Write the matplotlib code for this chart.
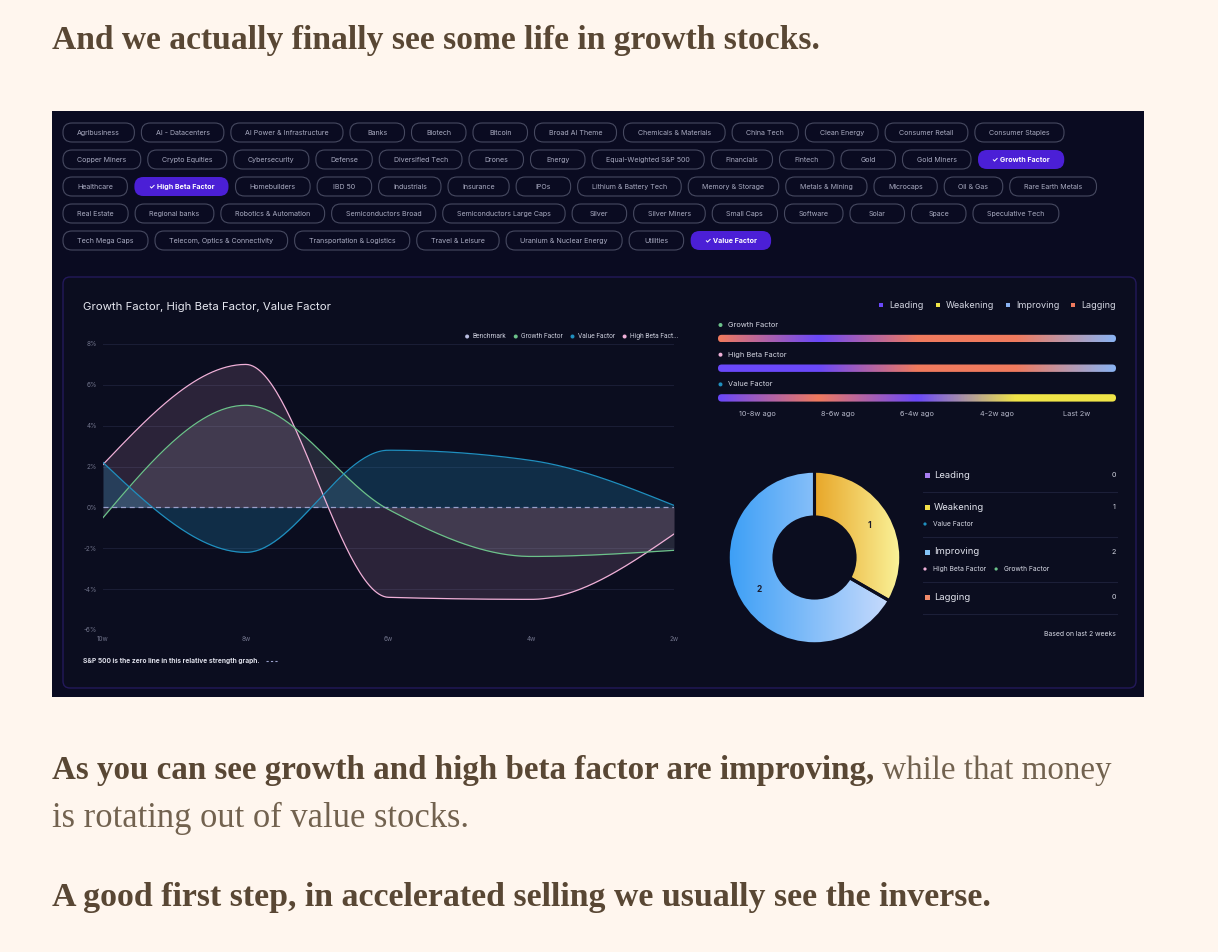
import numpy as np
import matplotlib
matplotlib.use("Agg")
import matplotlib.pyplot as plt
from matplotlib.patches import FancyBboxPatch, Rectangle, Circle
from matplotlib.colors import LinearSegmentedColormap

W, H = 1218, 952

# ---- data -------------------------------------------------------------
chip_rows = [
    ["Agribusiness", "AI - Datacenters", "AI Power & Infrastructure", "Banks", "Biotech", "Bitcoin",
     "Broad AI Theme", "Chemicals & Materials", "China Tech", "Clean Energy", "Consumer Retail",
     "Consumer Staples"],
    ["Copper Miners", "Crypto Equities", "Cybersecurity", "Defense", "Diversified Tech", "Drones",
     "Energy", "Equal-Weighted S&P 500", "Financials", "Fintech", "Gold", "Gold Miners", "Growth Factor"],
    ["Healthcare", "High Beta Factor", "Homebuilders", "IBD 50", "Industrials", "Insurance", "IPOs",
     "Lithium & Battery Tech", "Memory & Storage", "Metals & Mining", "Microcaps", "Oil & Gas",
     "Rare Earth Metals"],
    ["Real Estate", "Regional banks", "Robotics & Automation", "Semiconductors Broad",
     "Semiconductors Large Caps", "Silver", "Silver Miners", "Small Caps", "Software", "Solar", "Space",
     "Speculative Tech"],
    ["Tech Mega Caps", "Telecom, Optics & Connectivity", "Transportation & Logistics", "Travel & Leisure",
     "Uranium & Nuclear Energy", "Utilities", "Value Factor"],
]
selected = ["Growth Factor", "High Beta Factor", "Value Factor"]

weeks = [10, 8, 6, 4, 2]
week_labels = ["10w", "8w", "6w", "4w", "2w"]
y_ticks = [-6, -4, -2, 0, 2, 4, 6, 8]
growth = [-0.5, 5.0, -0.1, -2.4, -2.1]
high_beta = [2.1, 7.0, -4.4, -4.5, -1.3]
value = [2.2, -2.2, 2.8, 2.3, 0.1]

legend_names = ["Benchmark", "Growth Factor", "Value Factor", "High Beta Fact..."]

periods = ["10-8w ago", "8-6w ago", "6-4w ago", "4-2w ago", "Last 2w"]
quadrants = ["Leading", "Weakening", "Improving", "Lagging"]
growth_states = ["Lagging", "Leading", "Lagging", "Lagging", "Improving"]
high_beta_states = ["Leading", "Leading", "Lagging", "Lagging", "Improving"]
value_states = ["Leading", "Lagging", "Leading", "Weakening", "Weakening"]
members = [[], ["Value Factor"], ["High Beta Factor", "Growth Factor"], []]

# ---- colours ------------------------------------------------------------
PAGE = "#fff6ee"
DASH_BG = "#0a0b21"
CARD_BG = "#0b0d1f"
C_GROWTH = "#6cc28a"
C_VALUE = "#1f8fbf"
C_BETA = "#f0b0d8"
C_BENCH = "#b8bce0"
Q_COL = {"Leading": "#6a48fa", "Weakening": "#f0e448", "Improving": "#8ab2f2", "Lagging": "#f07a5e"}
LIST_COL = {"Leading": "#a77cf0", "Weakening": "#f4e04a", "Improving": "#84c4f8", "Lagging": "#f08a6a"}
DONUT_GRAD = {"Leading": ("#6a48fa", "#b9a6ff"), "Weakening": ("#e8a628", "#faf39a"),
              "Improving": ("#3c9ff6", "#c6dafc"), "Lagging": ("#f07a5e", "#fbc2b0")}
SERIES_COL = {"Growth Factor": C_GROWTH, "High Beta Factor": C_BETA, "Value Factor": C_VALUE}

plt.rcParams["font.family"] = ["Inter", "DejaVu Sans"]

fig = plt.figure(figsize=(W / 100, H / 100), dpi=100, facecolor=PAGE)
renderer = fig.canvas.get_renderer()


def rect(x0, y0, x1, y1):
    return [x0 / W, 1 - y1 / H, (x1 - x0) / W, (y1 - y0) / H]


ui = fig.add_axes([0, 0, 1, 1])
ui.set_axis_off()
ui.set_zorder(0)


def tw(t):
    return t.get_window_extent(renderer).width


def rbox(x0, y0, x1, y1, r, **kw):
    p = FancyBboxPatch((x0, y0), x1 - x0, y1 - y0, boxstyle=f"round,pad=0,rounding_size={r}", **kw)
    ui.add_patch(p)
    return p


def fit(x, y, s, right, weight, color, ref=20):
    t = ui.text(x, y, s, fontsize=ref, family="Liberation Serif", weight=weight, color=color,
                va="baseline", ha="left")
    t.set_fontsize(ref * (right - x) / tw(t))
    return t


ui.set_xlim(0, W)
ui.set_ylim(H, 0)

# ---- article text -------------------------------------------------------
BOLD_C, REG_C = "#594734", "#72624f"
fit(52, 49, "And we actually finally see some life in growth stocks.", 820, "bold", BOLD_C)
b = fit(52, 779, "As you can see growth and high beta factor are improving,", 875, "bold", BOLD_C)
ui.text(52 + tw(b), 779, " while that money", fontsize=b.get_fontsize(), family="Liberation Serif",
        color=REG_C, va="baseline")
fit(52, 827, "is rotating out of value stocks.", 468, "normal", REG_C)
fit(52, 906, "A good first step, in accelerated selling we usually see the inverse.", 992, "bold", BOLD_C)

# ---- dashboard panel ----------------------------------------------------
ui.add_patch(Rectangle((52, 111), 1092, 586, color=DASH_BG, lw=0))

for r, row in enumerate(chip_rows):
    cy = 132.5 + 27 * r
    x = 63
    for name in row:
        sel = name in selected
        label = "\u2713 " + name if sel else name
        t = ui.text(0, cy, label, fontsize=5.1, color="white" if sel else "#a8aac0",
                    weight="bold" if sel else "normal", ha="center", va="center", zorder=3)
        w = max(tw(t) + 28.5, 54.5)
        if sel:
            rbox(x, cy - 9.5, x + w, cy + 9.5, 9, facecolor="#4b1fd6", edgecolor="none")
        else:
            rbox(x, cy - 9.5, x + w, cy + 9.5, 9, facecolor="none", edgecolor="#464960", lw=0.8)
        t.set_position((x + w / 2, cy + 0.3))
        x += w + 7

rbox(63, 277, 1136, 688, 7, facecolor=CARD_BG, edgecolor="#23195a", lw=1)

ui.text(83, 307, "Growth Factor, High Beta Factor, Value Factor", fontsize=8.2, color="#e6e7f0",
        va="center")
t = ui.text(83, 661, "S&P 500 is the zero line in this relative strength graph.", fontsize=4.8,
            color="#dcdde8", va="center", weight="bold")
xe = 83 + tw(t) + 6
ui.plot([xe, xe + 13], [661, 661], color="#9aa0cc", lw=0.8, ls=(0, (2, 2)))

# line chart legend, laid out right to left
x = 678
for name, c in reversed(list(zip(legend_names, [C_BENCH, C_GROWTH, C_VALUE, C_BETA]))):
    t = ui.text(x, 336.5, name, fontsize=4.8, family=["Roboto", "DejaVu Sans"], color="#c9cbd9",
                ha="right", va="center")
    dx = x - tw(t) - 5
    ui.add_patch(Circle((dx, 336.5), 2, color=c, lw=0))
    x = dx - 10

# ---- line chart ---------------------------------------------------------


def monotone(xs, ys, n=60):
    xs = np.asarray(xs, float)
    ys = np.asarray(ys, float)
    h = np.diff(xs)
    s = np.diff(ys) / h
    m = np.zeros(len(xs))
    for i in range(1, len(xs) - 1):
        p = (s[i - 1] * h[i] + s[i] * h[i - 1]) / (h[i - 1] + h[i])
        m[i] = (np.sign(s[i - 1]) + np.sign(s[i])) * min(abs(s[i - 1]), abs(s[i]), 0.5 * abs(p))
    m[0] = (3 * s[0] - m[1]) / 2
    m[-1] = (3 * s[-1] - m[-2]) / 2
    px, py = [], []
    for i in range(len(h)):
        t = np.linspace(0, 1, n, endpoint=(i == len(h) - 1))
        h00 = 2 * t**3 - 3 * t**2 + 1
        h10 = t**3 - 2 * t**2 + t
        h01 = -2 * t**3 + 3 * t**2
        h11 = t**3 - t**2
        py.append(h00 * ys[i] + h10 * h[i] * m[i] + h01 * ys[i + 1] + h11 * h[i] * m[i + 1])
        px.append(xs[i] + t * h[i])
    return np.concatenate(px), np.concatenate(py)


ax = fig.add_axes(rect(103, 344, 674, 630))
ax.set_zorder(2)
ax.patch.set_alpha(0)
for vals, c, fc, a in [(high_beta, C_BETA, C_BETA, 0.14), (growth, C_GROWTH, "#c0c4d0", 0.15),
                       (value, C_VALUE, C_VALUE, 0.25)]:
    cx, cy = monotone([-w for w in weeks], vals)
    ax.fill_between(-cx, cy, 0, color=fc, alpha=a, lw=0)
    ax.plot(-cx, cy, color=c, lw=0.9)
ax.axhline(0, color="#9aa0cc", lw=0.9, ls=(0, (4, 3)))
ax.set_xlim(10, 2)
ax.set_ylim(-6, 8)
ax.set_yticks(y_ticks)
ax.set_yticklabels([f"{v}%" for v in y_ticks])
ax.set_xticks(weeks)
ax.set_xticklabels(week_labels)
ax.grid(axis="y", color="#1b1e36", lw=0.7)
ax.set_axisbelow(True)
ax.tick_params(length=0, labelsize=4.6, colors="#70738a")
ax.tick_params(axis="y", pad=4.5)
ax.tick_params(axis="x", pad=4)
for sp in ax.spines.values():
    sp.set_visible(False)

# ---- quadrant legend ----------------------------------------------------
x = 1116
for q in reversed(quadrants):
    t = ui.text(x, 305, q, fontsize=6.5, color="#d4d6e2", ha="right", va="center")
    sx = x - tw(t) - 8
    ui.add_patch(Rectangle((sx - 2, 303), 4, 4, color=Q_COL[q], lw=0))
    x = sx - 14

# ---- state bars -----------------------------------------------------------
bx0, bx1 = 718, 1116
grad = np.linspace(0, 1, 400).reshape(1, -1)
for i, (name, states) in enumerate([("Growth Factor", growth_states), ("High Beta Factor", high_beta_states),
                                    ("Value Factor", value_states)]):
    ly = 325 + 29.7 * i
    by = ly + 13.5
    ui.add_patch(Circle((720.5, ly), 2, color=SERIES_COL[name], lw=0))
    ui.text(728, ly, name, fontsize=5.3, color="#d4d6e2", va="center")
    stops = np.linspace(0, 1, len(states))
    cmap = LinearSegmentedColormap.from_list(name, list(zip(stops, [Q_COL[s] for s in states])))
    clip = rbox(bx0, by - 3.7, bx1, by + 3.7, 3.7, facecolor="none", edgecolor="none")
    im = ui.imshow(grad, cmap=cmap, extent=[bx0, bx1, by + 3.7, by - 3.7], aspect="auto",
                   interpolation="bilinear", zorder=3)
    im.set_clip_path(clip)

for i, p in enumerate(periods):
    ui.text(bx0 + (bx1 - bx0) * (0.1 + 0.2 * i), 414, p, fontsize=5.3, color="#b4b6c8",
            ha="center", va="center")

ui.set_xlim(0, W)
ui.set_ylim(H, 0)
ui.set_aspect("auto")

# ---- donut ------------------------------------------------------------------
last = [growth_states[-1], high_beta_states[-1], value_states[-1]]
counts = [last.count(q) for q in quadrants]
pie_q = [q for q, c in zip(quadrants, counts) if c > 0]
pie_v = [c for c in counts if c > 0]

dax = fig.add_axes(rect(726.5, 469.5, 902.5, 645.5))
dax.set_zorder(2)
wedges, _ = dax.pie(pie_v, startangle=90, counterclock=False, radius=1,
                    wedgeprops=dict(width=0.53, edgecolor=CARD_BG, linewidth=2.2))
for wdg, q, v in zip(wedges, pie_q, pie_v):
    bb = wdg.get_path().get_extents()
    cmap = LinearSegmentedColormap.from_list(q, DONUT_GRAD[q])
    im = dax.imshow(grad, cmap=cmap, extent=[bb.x0, bb.x1, bb.y0, bb.y1], aspect="auto",
                    interpolation="bilinear", zorder=1)
    im.set_clip_path(wdg)
    wdg.set_facecolor("none")
    wdg.set_zorder(2)
    mid = np.deg2rad((wdg.theta1 + wdg.theta2) / 2)
    dax.text(0.74 * np.cos(mid), 0.74 * np.sin(mid), str(v), fontsize=6, weight="bold",
             color="#1b1b2b", ha="center", va="center", zorder=3)
dax.set_xlim(-1.02, 1.02)
dax.set_ylim(-1.02, 1.02)
dax.set_aspect("equal")
dax.set_axis_off()

# ---- quadrant list --------------------------------------------------------
row_y = [475, 507, 552, 597]
sep_y = [492, 537, 582, 614]
for q, c, mem, y, sy in zip(quadrants, counts, members, row_y, sep_y):
    ui.add_patch(Rectangle((924.5, y - 2.5), 5, 5, color=LIST_COL[q], lw=0))
    ui.text(934, y, q, fontsize=6.8, color="#e0e2ec", va="center")
    ui.text(1116, y, str(c), fontsize=5.2, color="#d0d2de", ha="right", va="center")
    mx = 925
    for m in mem:
        ui.add_patch(Circle((mx, y + 17), 1.6, color=SERIES_COL[m], lw=0))
        t = ui.text(mx + 8, y + 17, m, fontsize=4.8, color="#d8dae6", va="center")
        mx = mx + 8 + tw(t) + 10
    ui.plot([923, 1117], [sy, sy], color="#1c1f38", lw=0.8)
ui.text(1116, 634, "Based on last 2 weeks", fontsize=4.9, color="#d8dae6", ha="right", va="center")

ui.set_xlim(0, W)
ui.set_ylim(H, 0)

fig.savefig("out.png", dpi=100, facecolor=PAGE)
